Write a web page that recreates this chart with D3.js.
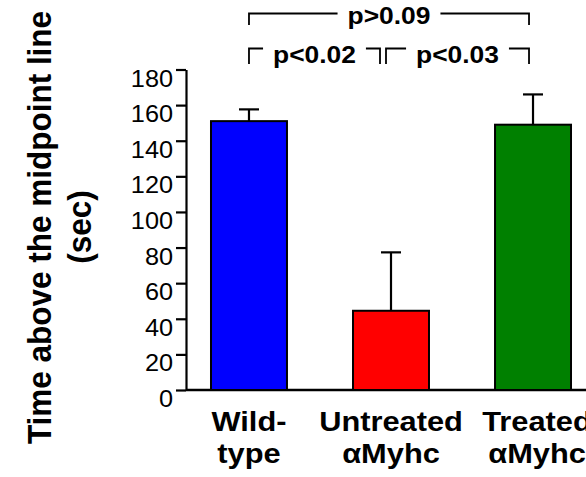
<!DOCTYPE html>
<html>
<head>
<meta charset="utf-8">
<script src="https://cdnjs.cloudflare.com/ajax/libs/d3/7.8.5/d3.min.js"></script>
<style>
  body { margin: 0; background: #ffffff; }
  text { font-family: "Liberation Sans", Arial, Helvetica, sans-serif; }
</style>
</head>
<body>
<div id="chart"></div>
<script>
// data
var categories = [["Wild-", "type"], ["Untreated", "\u03b1Myhc"], ["Treated", "\u03b1Myhc"]];
var means = [151, 44.5, 149];
var errors = [6.6, 32.8, 17];
var barColors = ["#0000ff", "#ff0000", "#008000"];
var yTicks = [0, 20, 40, 60, 80, 100, 120, 140, 160, 180];

var pLabels = ["p>0.09", "p<0.02", "p<0.03"];
var pFrom = [0, 0, 1];
var pTo = [2, 1, 2];
var pRow = [0, 1, 1];

var width = 586, height = 477;
var stretch = 1.1; // glyphs in the figure are a little wide

var svg = d3.select('#chart').append('svg')
  .attr('width', width)
  .attr('height', height)
  .style('background', '#ffffff');

var x = d3.scaleBand()
  .domain(d3.range(categories.length))
  .range([186, 596])
  .paddingInner(0.465)
  .paddingOuter(0.176);

var y = d3.scaleLinear()
  .domain([0, 180])
  .range([390, 69.5]);

function cx(i) { return x(i) + x.bandwidth() / 2; }

// y axis
var yAxis = d3.axisLeft(y)
  .tickValues(yTicks)
  .tickSize(10)
  .tickSizeOuter(0);

var yg = svg.append('g')
  .attr('transform', 'translate(186,0)')
  .call(yAxis);

yg.select('.domain').attr('stroke', '#000').attr('stroke-width', 2.2);
yg.selectAll('.tick line').attr('stroke', '#000').attr('stroke-width', 2.2);
yg.selectAll('.tick text')
  .attr('fill', '#000')
  .style('font-size', '23px')
  .style('font-weight', 'normal')
  .style('font-family', '"Liberation Sans", Arial, sans-serif')
  .attr('x', -13 / stretch)
  .attr('dy', '0.72em')
  .attr('transform', 'scale(' + stretch + ',1)');

// x baseline
svg.append('line')
  .attr('x1', 186).attr('x2', width)
  .attr('y1', y(0)).attr('y2', y(0))
  .attr('stroke', '#000')
  .attr('stroke-width', 2.5);

// bars
svg.append('g').selectAll('rect')
  .data(means)
  .enter().append('rect')
  .attr('x', function(d, i) { return x(i); })
  .attr('width', x.bandwidth())
  .attr('y', function(d) { return y(d); })
  .attr('height', function(d) { return y(0) - y(d); })
  .attr('fill', function(d, i) { return barColors[i]; })
  .attr('stroke', '#000')
  .attr('stroke-width', 2);

// upper error bars
var err = svg.append('g').selectAll('g')
  .data(means)
  .enter().append('g');

err.append('line')
  .attr('x1', function(d, i) { return cx(i); })
  .attr('x2', function(d, i) { return cx(i); })
  .attr('y1', function(d) { return y(d); })
  .attr('y2', function(d, i) { return y(d + errors[i]); })
  .attr('stroke', '#000')
  .attr('stroke-width', 2.2);

err.append('line')
  .attr('x1', function(d, i) { return cx(i) - 10; })
  .attr('x2', function(d, i) { return cx(i) + 10; })
  .attr('y1', function(d, i) { return y(d + errors[i]); })
  .attr('y2', function(d, i) { return y(d + errors[i]); })
  .attr('stroke', '#000')
  .attr('stroke-width', 2.2);

// category labels
var lab = svg.append('g').selectAll('text')
  .data(categories)
  .enter().append('text')
  .attr('transform', function(d, i) { return 'translate(' + (cx(i) + (i === 2 ? 4 : 0)) + ',431) scale(' + stretch + ',1)'; })
  .attr('text-anchor', 'middle')
  .style('font-size', '28px')
  .style('font-weight', 'bold');

lab.selectAll('tspan')
  .data(function(d) { return d; })
  .enter().append('tspan')
  .attr('x', 0)
  .attr('dy', function(d, j) { return j === 0 ? 0 : 32; })
  .text(function(d) { return d; });

// y title
svg.append('text')
  .attr('transform', 'translate(51,227.5) scale(1.08,1) rotate(-90)')
  .attr('text-anchor', 'middle')
  .style('font-size', '31.5px')
  .style('font-weight', 'bold')
  .text('Time above the midpoint line');

svg.append('text')
  .attr('transform', 'translate(91,227) scale(1.08,1) rotate(-90)')
  .attr('text-anchor', 'middle')
  .style('font-size', '31.5px')
  .style('font-weight', 'bold')
  .text('(sec)');

// significance brackets
var rowLine = [13.5, 48.5];
var rowDrop = [25, 64];
var rowText = [24, 62.5];

pLabels.forEach(function(label, k) {
  var r = pRow[k];
  // brackets sharing a bar in one row are pulled apart a little
  var sharedRight = pFrom.some(function(f, m) { return m !== k && pRow[m] === r && f === pTo[k]; });
  var sharedLeft = pTo.some(function(t, m) { return m !== k && pRow[m] === r && t === pFrom[k]; });
  var x1 = sharedLeft ? cx(pFrom[k]) - 5 : cx(pFrom[k]);
  var x2 = sharedRight ? cx(pTo[k]) - 11 : cx(pTo[k]) - 4;
  var mid = (x1 + x2) / 2;

  var t = svg.append('text')
    .attr('transform', 'translate(' + mid + ',' + rowText[r] + ') scale(' + stretch + ',1)')
    .attr('text-anchor', 'middle')
    .style('font-size', '24px')
    .style('font-weight', 'bold')
    .text(label);

  var half = t.node().getComputedTextLength() * stretch / 2 + 10;

  svg.append('path')
    .attr('d', 'M' + x1 + ',' + rowDrop[r] + 'V' + rowLine[r] + 'H' + Math.max(x1, mid - half))
    .attr('fill', 'none')
    .attr('stroke', '#000')
    .attr('stroke-width', 1.8);

  svg.append('path')
    .attr('d', 'M' + Math.min(x2, mid + half) + ',' + rowLine[r] + 'H' + x2 + 'V' + rowDrop[r])
    .attr('fill', 'none')
    .attr('stroke', '#000')
    .attr('stroke-width', 1.8);
});
</script>
</body>
</html>
